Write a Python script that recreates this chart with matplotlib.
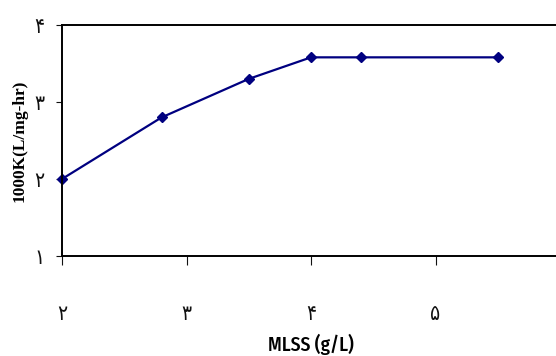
import matplotlib.pyplot as plt

# data
mlss = [2.0, 2.8, 3.5, 4.0, 4.4, 5.5]
k1000 = [2.0, 2.8, 3.3, 3.58, 3.58, 3.58]

xticks = [2, 3, 4, 5, 6]
yticks = [1, 2, 3, 4]
fa = str.maketrans("0123456789", "۰۱۲۳۴۵۶۷۸۹")

fig = plt.figure(figsize=(5.56, 3.56), dpi=100)
ax = fig.add_axes([62 / 556, 1 - 256 / 356, (560 - 62) / 556, (256 - 25) / 356])

ax.plot(mlss, k1000, color="#000080", lw=1.6, marker="D", ms=5.5,
        mfc="#000080", mec="#000080", clip_on=False)

ax.set_xlim(2, 6)
ax.set_ylim(1, 4)

tick_font = dict(fontsize=15, family="DejaVu Sans", fontstretch="condensed")
ax.set_xticks(xticks)
ax.set_xticklabels([str(t).translate(fa) for t in xticks], **tick_font)
ax.set_yticks(yticks)
ax.set_yticklabels([str(t).translate(fa) for t in yticks], **tick_font)

ax.tick_params(axis="x", direction="out", length=6.5, width=0.8,
               pad=28, colors="#111111")
ax.tick_params(axis="y", direction="out", length=4.5, width=0.8,
               pad=8, colors="#111111")

for s in ax.spines.values():
    s.set_linewidth(1.4)
    s.set_color("black")

ax.set_xlabel("MLSS (g/L)", family=["Fira Sans Condensed", "Archivo Narrow"],
              fontweight=500, fontsize=14, labelpad=7)
ax.set_ylabel("1000K(L/mg-hr)", family="Liberation Serif",
              fontweight="bold", fontsize=12.5, labelpad=5)

fig.savefig("out.png", dpi=100)
